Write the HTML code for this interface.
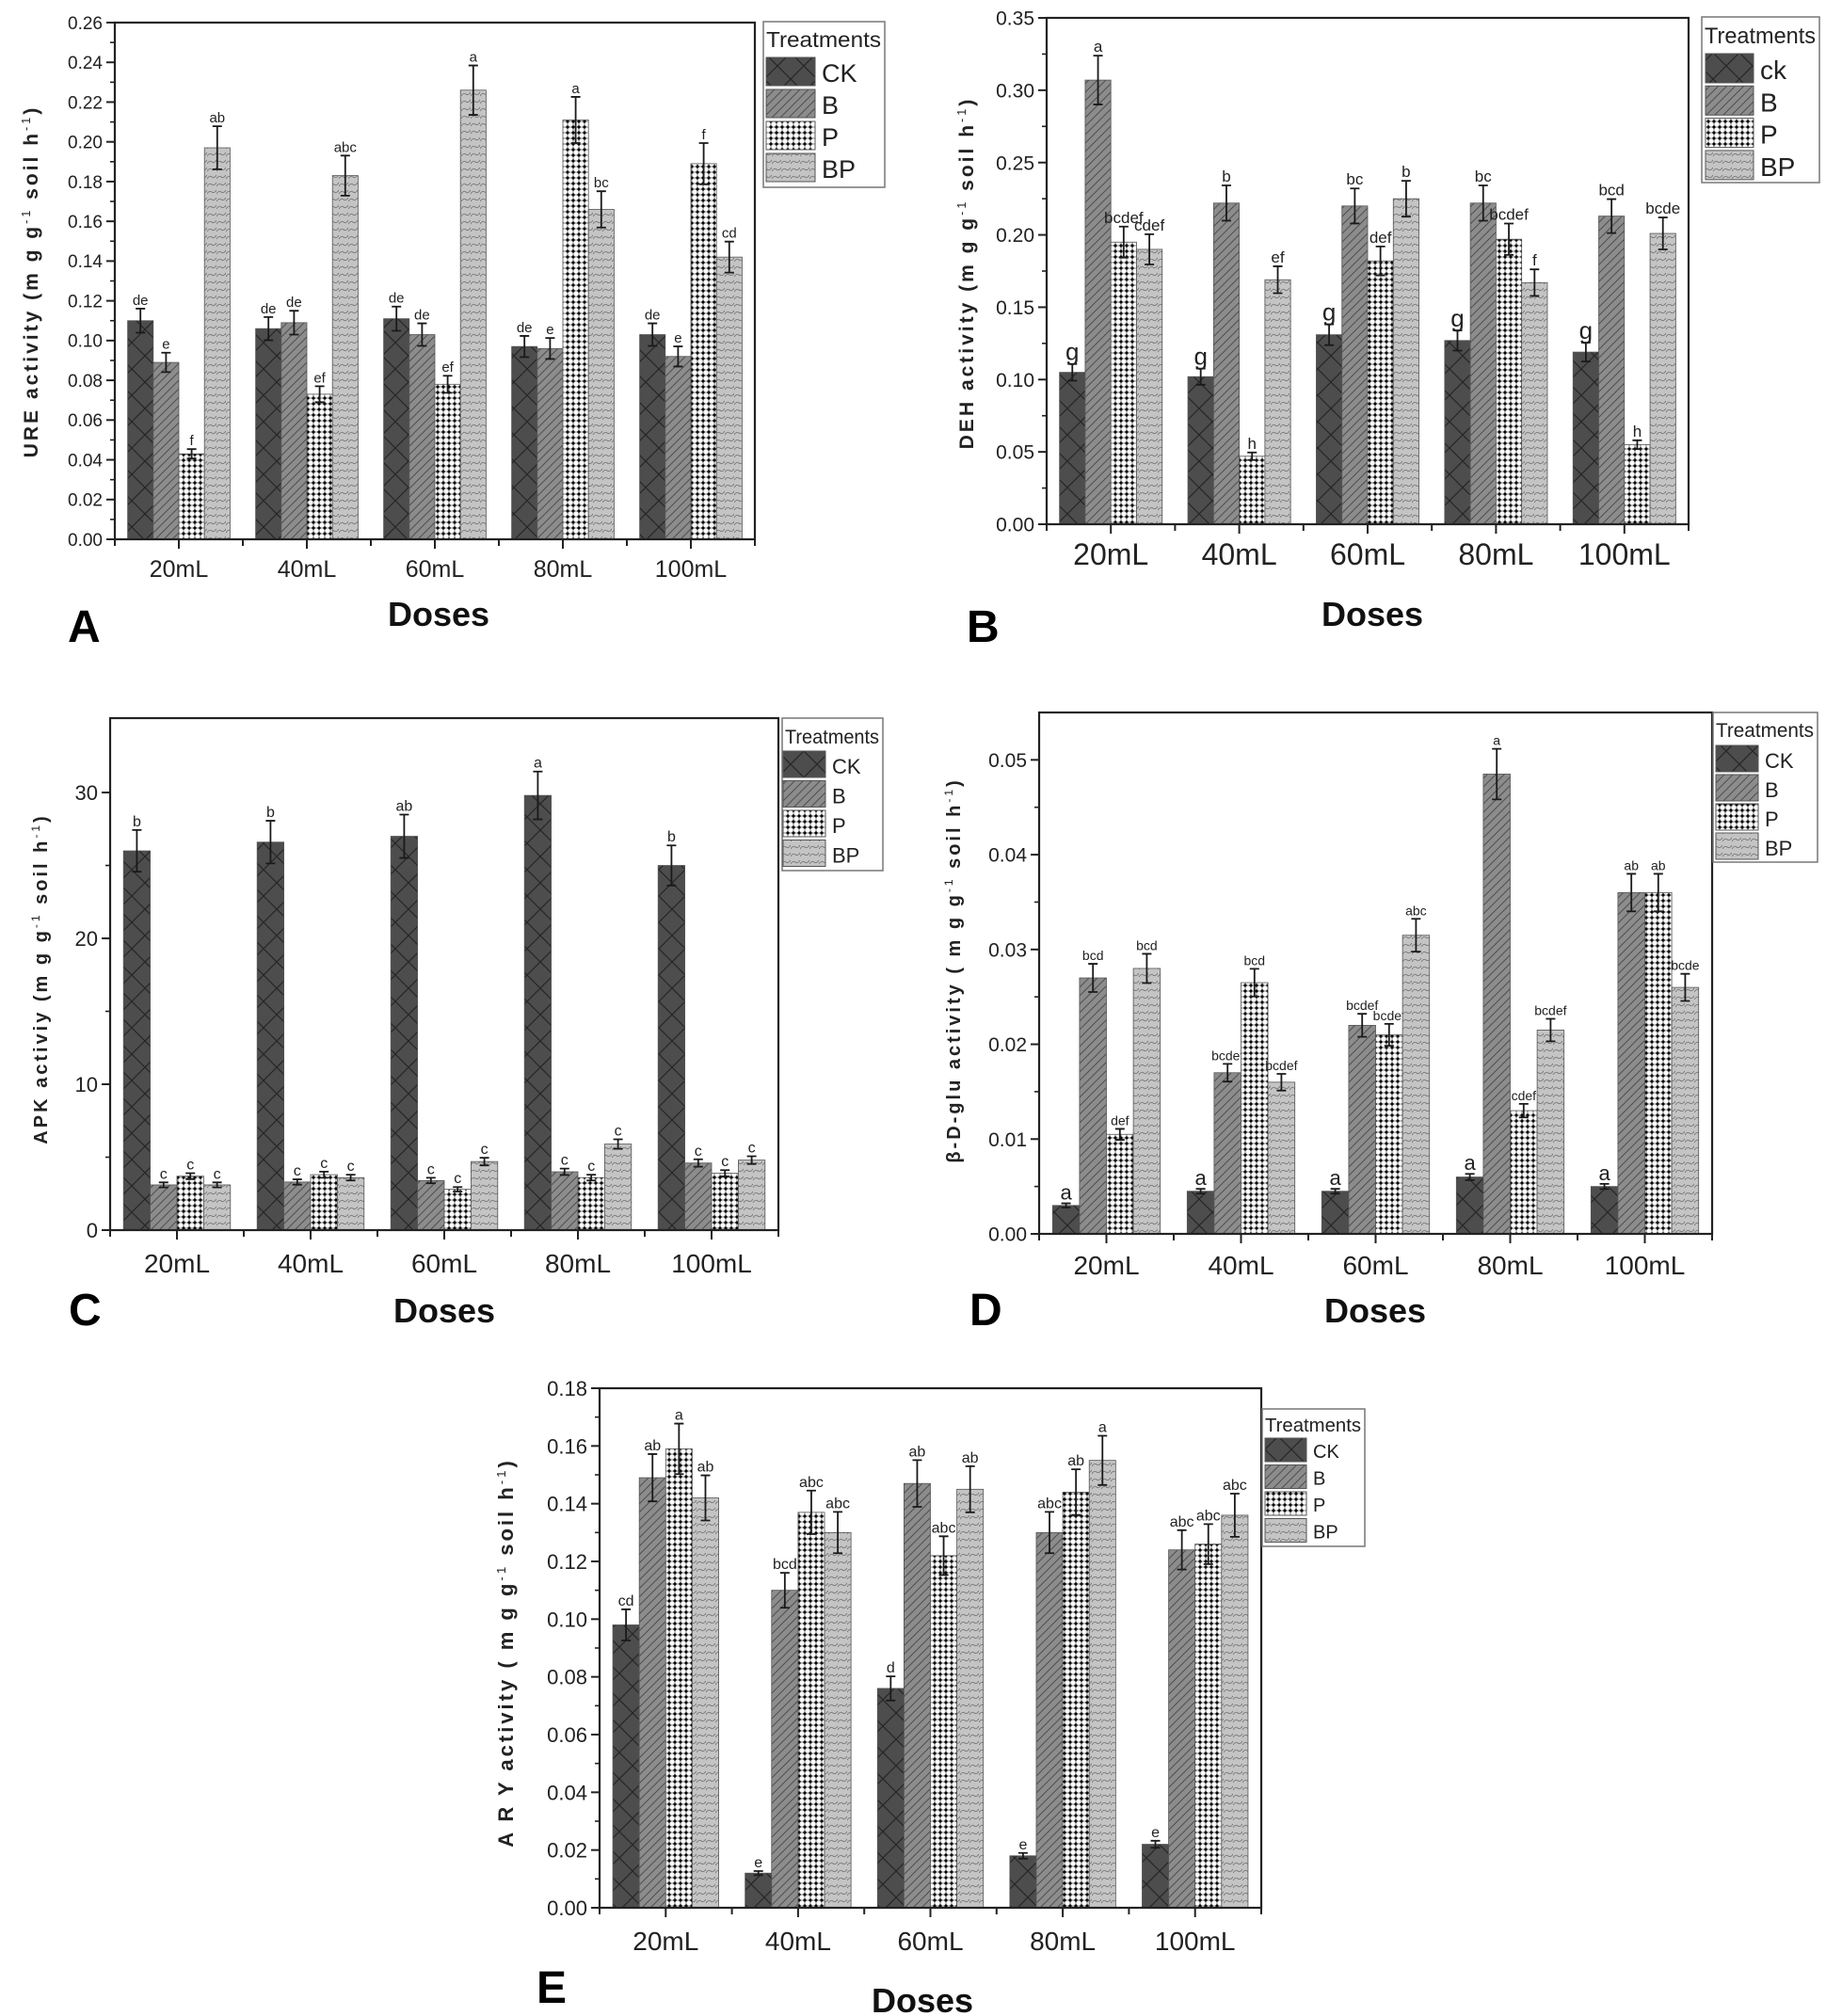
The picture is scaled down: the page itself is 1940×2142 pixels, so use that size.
<!DOCTYPE html>
<html><head><meta charset="utf-8">
<style>
html,body{margin:0;padding:0;background:#fff;}
svg{display:block;}
text{font-family:"Liberation Sans",Arial,sans-serif;}
</style></head>
<body>
<svg id="s" xmlns="http://www.w3.org/2000/svg" width="1940" height="2142" viewBox="0 0 1940 2142">
<defs>
<pattern id="pCK" patternUnits="userSpaceOnUse" width="28" height="28">
<rect width="28" height="28" fill="#4d4d4d"/>
<path d="M0 0L28 28M28 0L0 28" stroke="#262626" stroke-width="1.2"/>
</pattern>
<pattern id="pB" patternUnits="userSpaceOnUse" width="9" height="9">
<rect width="9" height="9" fill="#8c8c8c"/>
<path d="M-2 11L11 -2M-2 2L2 -2M7 11L11 7" stroke="#4f4f4f" stroke-width="1"/>
</pattern>
<pattern id="pP" patternUnits="userSpaceOnUse" width="6" height="6">
<rect width="6" height="6" fill="#fff"/>
<path d="M0 3H6M3 0V6" stroke="#555" stroke-width="0.8"/>
<circle cx="3" cy="3" r="1.6" fill="#000"/>
</pattern>
<pattern id="pBP" patternUnits="userSpaceOnUse" width="10" height="8">
<rect width="10" height="8" fill="#c4c4c4"/>
<path d="M0 6Q2.5 2 5 4T10 2" stroke="#777" stroke-width="0.9" fill="none"/>
</pattern>
</defs>
</svg>
<script>
var S=document.getElementById('s');var NS='http://www.w3.org/2000/svg';
function el(t,a,txt,parent){var e=document.createElementNS(NS,t);for(var k in a)e.setAttribute(k,a[k]);if(txt!==undefined)e.textContent=txt;(parent||S).appendChild(e);return e;}
var pats=['url(#pCK)','url(#pB)','url(#pP)','url(#pBP)'];
var cats=['20mL','40mL','60mL','80mL','100mL'];
function panel(c){
 var W=c.R-c.L,gw=W/5,H=c.B0-c.T;
 function Y(v){return c.B0-v/c.ymax*H;}
 for(var g=0;g<5;g++){
  var gx=c.L+g*gw+gw*0.1,bw=gw*0.8/4;
  for(var s=0;s<4;s++){
   var v=c.d[s][g],x=gx+s*bw,y=Y(v);
   el('rect',{x:x,y:y,width:bw,height:c.B0-y,fill:pats[s],stroke:'#555','stroke-width':0.8});
   var e=Math.max(v*0.055,c.ymax*0.004),cx=x+bw/2;
   var y1=Y(v+e),y2=Y(v-e);
   el('path',{d:'M'+cx+' '+y1+'V'+y2+'M'+(cx-5)+' '+y1+'H'+(cx+5)+'M'+(cx-5)+' '+y2+'H'+(cx+5),stroke:'#1a1a1a','stroke-width':1.8,fill:'none'});
   var fs=c.lf; if(s==0&&c.ckBig)fs=c.ckBig;
   el('text',{x:cx,y:y1-4,'font-size':fs,'text-anchor':'middle',fill:'#222'},c.l[g][s]);
  }
 }
 el('rect',{x:c.L,y:c.T,width:W,height:H,fill:'none',stroke:'#222','stroke-width':2.2});
 var n=Math.round(c.ymax/c.step+1e-6);
 for(var i=0;i<=n;i++){var v=i*c.step,y=Y(v);if(y<c.T-1)break;
  el('path',{d:'M'+(c.L-9)+' '+y+'H'+c.L,stroke:'#222','stroke-width':2});
  el('text',{x:c.L-13,y:y+c.tf*0.36,'font-size':c.tf,'text-anchor':'end',fill:'#222'},v.toFixed(c.dec));
  var ym=Y(v+c.step/2);if(ym>c.T+2)el('path',{d:'M'+(c.L-5)+' '+ym+'H'+c.L,stroke:'#222','stroke-width':1.6});
 }
 for(var g=0;g<=5;g++){var x=c.L+g*gw;el('path',{d:'M'+x+' '+c.B0+'V'+(c.B0+7),stroke:'#222','stroke-width':2});}
 for(var g=0;g<5;g++){var x=c.L+(g+0.5)*gw;el('path',{d:'M'+x+' '+c.B0+'V'+(c.B0+10),stroke:'#222','stroke-width':2});
  el('text',{x:x,y:c.xb,'font-size':c.xf,'text-anchor':'middle',fill:'#222'},cats[g]);}
 var L=c.leg;
 el('rect',{x:L.x,y:L.y,width:L.w,height:L.h,fill:'#fff',stroke:'#777','stroke-width':1.5});
 el('text',{x:L.x+3,y:L.tb,'font-size':L.tfs,fill:'#222',textLength:L.w-7,lengthAdjust:'spacingAndGlyphs'},'Treatments');
 for(var s=0;s<4;s++){var ry=L.r0+s*L.rs;
  el('rect',{x:L.sx,y:ry,width:L.sw,height:L.sh,fill:pats[s],stroke:'#555','stroke-width':1});
  el('text',{x:L.sx+L.sw+7,y:ry+L.sh-4,'font-size':L.lfs,fill:'#222'},c.names[s]);}
 el('text',{x:c.dx,y:c.db,'font-size':36,'font-weight':'bold','text-anchor':'middle',fill:'#111'},'Doses');
 el('text',{x:c.px,y:c.pb,'font-size':48,'font-weight':'bold',fill:'#000'},c.letter);
 var t=el('text',{transform:'translate('+c.yx+','+c.yy+') rotate(-90)','font-size':c.ytf,'font-weight':'bold','text-anchor':'middle',fill:'#222','letter-spacing':c.yls,'font-family':c.yserif?'"Liberation Serif",serif':'"Liberation Sans",sans-serif'});
 el('tspan',{},c.yt1,t);el('tspan',{dy:-8,'font-size':c.ytf*0.6,'font-weight':'normal'},'-1',t);el('tspan',{dy:8},c.yt2,t);el('tspan',{dy:-8,'font-size':c.ytf*0.6,'font-weight':'normal'},'-1',t);el('tspan',{dy:8},')',t);
}
var N4=['CK','B','P','BP'];
panel({L:122,R:802,T:24,B0:573,ymax:0.26,step:0.02,dec:2,tf:19,xf:25,xb:613,lf:15,
 d:[[.110,.106,.111,.097,.103],[.089,.109,.103,.096,.092],[.043,.073,.078,.211,.189],[.197,.183,.226,.166,.142]],
 l:[['de','e','f','ab'],['de','de','ef','abc'],['de','de','ef','a'],['de','e','a','bc'],['de','e','f','cd']],
 leg:{x:811,y:23,w:129,h:176,tb:50,tfs:23,sx:814,sw:52,sh:30,r0:61,rs:34,lfs:27},names:N4,
 dx:466,db:665,px:72,pb:682,letter:'A',yx:40,yy:299,ytf:21,yls:3,yt1:'URE activity (m g g',yt2:' soil h'});
panel({L:1112,R:1794,T:19,B0:557,ymax:0.35,step:0.05,dec:2,tf:21,xf:32,xb:600,lf:17,ckBig:26,
 d:[[.105,.102,.131,.127,.119],[.307,.222,.220,.222,.213],[.195,.047,.182,.197,.055],[.190,.169,.225,.167,.201]],
 l:[['g','a','bcdef','cdef'],['g','b','h','ef'],['g','bc','def','b'],['g','bc','bcdef','f'],['g','bcd','h','bcde']],
 leg:{x:1808,y:18,w:125,h:176,tb:46,tfs:24,sx:1812,sw:51,sh:31,r0:57,rs:34.3,lfs:28},names:['ck','B','P','BP'],
 dx:1458,db:665,px:1027,pb:682,letter:'B',yx:1034,yy:290,ytf:21,yls:3,yt1:'DEH activity (m g g',yt2:' soil h'});
panel({L:117,R:827,T:763,B0:1307,ymax:35.1,step:10,dec:0,tf:22,xf:28,xb:1352,lf:16,
 d:[[26,26.6,27,29.8,25],[3.1,3.3,3.4,4.0,4.6],[3.7,3.8,2.8,3.6,3.9],[3.1,3.6,4.7,5.9,4.8]],
 l:[['b','c','c','c'],['b','c','c','c'],['ab','c','c','c'],['a','c','c','c'],['b','c','c','c']],
 leg:{x:831,y:763,w:107,h:162,tb:790,tfs:21,sx:832,sw:45,sh:28,r0:798,rs:31.5,lfs:22},names:N4,
 dx:472,db:1405,px:73,pb:1408,letter:'C',yx:50,yy:1040,ytf:20,yls:3,yt1:'APK activiy (m g g',yt2:' soil h'});
panel({L:1104,R:1819,T:757,B0:1311,ymax:0.055,step:0.01,dec:2,tf:21,xf:28,xb:1354,lf:14,ckBig:22,
 d:[[.003,.0045,.0045,.006,.005],[.027,.017,.022,.0485,.036],[.0105,.0265,.021,.013,.036],[.028,.016,.0315,.0215,.026]],
 l:[['a','bcd','def','bcd'],['a','bcdef','bcd','bcdef'],['a','bcdef','bcdef','abc'],['a','a','cdef','bcdef'],['a','ab','ab','bcde']],
 leg:{x:1820,y:757,w:111,h:159,tb:783,tfs:21,sx:1823,sw:45,sh:28,r0:792,rs:31,lfs:22},names:N4,
 dx:1461,db:1405,px:1030,pb:1408,letter:'D',yx:1020,yy:1031,ytf:20,yls:3,yt1:'β-D-glu activity ( m g g',yt2:' soil h'});
panel({L:637,R:1340,T:1475,B0:2027,ymax:0.18,step:0.02,dec:2,tf:22,xf:28,xb:2072,lf:16,
 d:[[.098,.012,.076,.018,.022],[.149,.110,.147,.130,.124],[.159,.137,.122,.144,.126],[.142,.130,.145,.155,.136]],
 l:[['cd','ab','a','ab'],['e','bcd','abc','abc'],['d','ab','abc','ab'],['e','abc','ab','a'],['e','abc','abc','abc']],
 leg:{x:1341,y:1497,w:109,h:146,tb:1521,tfs:20,sx:1344,sw:44,sh:25,r0:1528,rs:28.5,lfs:20},names:N4,
 dx:980,db:2138,px:570,pb:2128,letter:'E',yx:545,yy:1756,ytf:22,yls:3,yserif:true,yt1:'A R Y activity ( m g g',yt2:' soil h'});
</script>
</body></html>
